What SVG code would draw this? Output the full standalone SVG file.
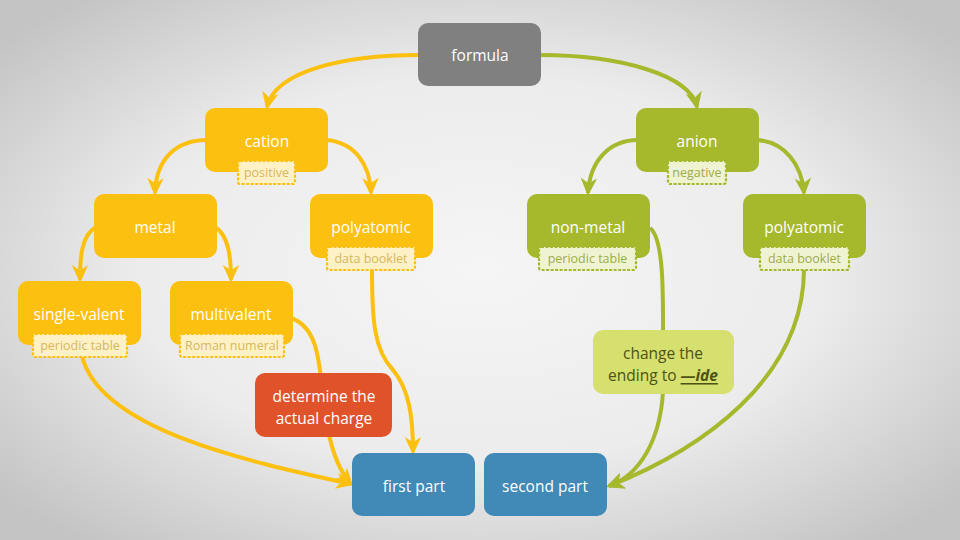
<svg xmlns="http://www.w3.org/2000/svg" width="960" height="540" viewBox="0 0 960 540">
<defs>
<radialGradient id="bg" cx="50%" cy="50%" r="65%">
<stop offset="0" stop-color="#f5f5f5"/>
<stop offset="0.55" stop-color="#ececec"/>
<stop offset="1" stop-color="#c4c4c4"/>
</radialGradient>
<marker id="ay" markerUnits="userSpaceOnUse" markerWidth="18" markerHeight="18" viewBox="0 0 12 12" refX="10" refY="6" orient="auto">
<path d="M0,0.5 L12,6 L0,11.5 L3.5,6 z" fill="#FCC010"/>
</marker>
<marker id="ag" markerUnits="userSpaceOnUse" markerWidth="18" markerHeight="18" viewBox="0 0 12 12" refX="10" refY="6" orient="auto">
<path d="M0,0.5 L12,6 L0,11.5 L3.5,6 z" fill="#A6B82C"/>
</marker>
</defs>
<style>
.t{font-family:"Open Sans","Noto Sans","DejaVu Sans",sans-serif;font-size:15.5px;fill:#ffffff;text-anchor:middle;dominant-baseline:central}
.lt{font-family:"Open Sans","Noto Sans","DejaVu Sans",sans-serif;font-size:12.5px;text-anchor:middle;dominant-baseline:central}
.y{fill:#FCC010}
.g{fill:#A6B82C}
.ly{fill:#FEF1C6;stroke:#FCC010;stroke-width:2.2;stroke-dasharray:3 1.5}
.lg{fill:#EFF3D2;stroke:#A6B82C;stroke-width:2.2;stroke-dasharray:3 1.5}
.lty{fill:#D6B75E}
.ltg{fill:#9DAC4A}
.cy{fill:none;stroke:#FCC010;stroke-width:4;marker-end:url(#ay)}
.cg{fill:none;stroke:#A6B82C;stroke-width:4;marker-end:url(#ag)}
.cgn{fill:none;stroke:#A6B82C;stroke-width:4}
</style>
<rect width="960" height="540" fill="url(#bg)"/>
<g id="connectors">
<path class="cy" d="M420,55 C340,55 275,72 267,107"/>
<path class="cg" d="M540,55 C620,55 690,75 697,107"/>
<path class="cy" d="M207,140 C175,140 156,160 155,193"/>
<path class="cy" d="M326,140 C355,142 370,165 371,193"/>
<path class="cg" d="M638,140 C610,140 590,160 588,193"/>
<path class="cg" d="M757,140 C785,142 802,165 804,193"/>
<path class="cy" d="M96,227 C82,235 80,255 80,280"/>
<path class="cy" d="M215,227 C228,235 231,255 231,280"/>
<path class="cy" d="M82,356 C100,430 250,462 351,484"/>
<path class="cy" d="M291,318 C325,330 318,380 328,430 C333,455 340,472 351,484"/>
<path class="cy" d="M372,270 C372,320 374,350 393,370 C410,390 413,420 413,452"/>
<path class="cgn" d="M650,228 C665,240 663,300 663,360"/>
<path class="cg" d="M663,392 C660,440 640,475 609,486"/>
<path class="cg" d="M804,270 C803,380 700,450 609,486"/>
</g>
<g id="formula"><rect x="418" y="23" width="123" height="63" rx="10" fill="#808080"/><text class="t" x="480" y="55">formula</text></g>
<g id="cation"><rect class="y" x="205" y="108" width="123" height="64" rx="10"/><text class="t" x="267" y="141">cation</text>
<rect class="ly" x="238" y="161" width="57" height="23" rx="2"/><text class="lt lty" x="266.5" y="172.5">positive</text></g>
<g id="anion"><rect class="g" x="636" y="108" width="123" height="64" rx="10"/><text class="t" x="697" y="141">anion</text>
<rect class="lg" x="668" y="161" width="58" height="23" rx="2"/><text class="lt ltg" x="697" y="172.5">negative</text></g>
<g id="metal"><rect class="y" x="94" y="194" width="123" height="64" rx="10"/><text class="t" x="155" y="227">metal</text></g>
<g id="polyatomic-cation"><rect class="y" x="310" y="194" width="123" height="64" rx="10"/><text class="t" x="371" y="227">polyatomic</text>
<rect class="ly" x="327" y="247" width="88" height="23" rx="2"/><text class="lt lty" x="371" y="258.5">data booklet</text></g>
<g id="non-metal"><rect class="g" x="527" y="194" width="123" height="64" rx="10"/><text class="t" x="588" y="227">non-metal</text>
<rect class="lg" x="539" y="247" width="97" height="23" rx="2"/><text class="lt ltg" x="587.5" y="258.5">periodic table</text></g>
<g id="polyatomic-anion"><rect class="g" x="743" y="194" width="123" height="64" rx="10"/><text class="t" x="804" y="227">polyatomic</text>
<rect class="lg" x="760" y="247" width="89" height="23" rx="2"/><text class="lt ltg" x="804.5" y="258.5">data booklet</text></g>
<g id="single-valent"><rect class="y" x="18" y="281" width="123" height="64" rx="10"/><text class="t" x="79" y="314">single-valent</text>
<rect class="ly" x="33" y="334" width="94" height="23" rx="2"/><text class="lt lty" x="80" y="345.5">periodic table</text></g>
<g id="multivalent"><rect class="y" x="170" y="281" width="123" height="64" rx="10"/><text class="t" x="231" y="314">multivalent</text>
<rect class="ly" x="180" y="334" width="104" height="23" rx="2"/><text class="lt lty" x="232" y="345.5">Roman numeral</text></g>
<g id="determine"><rect x="255" y="373" width="137" height="64" rx="10" fill="#E0532A"/><text class="t" x="324" y="396">determine the</text><text class="t" x="324" y="418">actual charge</text></g>
<g id="change-ending"><rect x="593" y="330" width="141" height="64" rx="10" fill="#D5E06E"/><text class="t" x="663" y="353" style="fill:#4E5215">change the</text><text class="t" x="663" y="375" style="fill:#4E5215">ending to <tspan font-weight="bold" font-style="italic" text-decoration="underline">—ide</tspan></text></g>
<g id="first-part"><rect x="352" y="453" width="123" height="63" rx="10" fill="#4189B7"/><text class="t" x="414" y="486">first part</text></g>
<g id="second-part"><rect x="484" y="453" width="123" height="63" rx="10" fill="#4189B7"/><text class="t" x="545" y="486">second part</text></g>
</svg>
